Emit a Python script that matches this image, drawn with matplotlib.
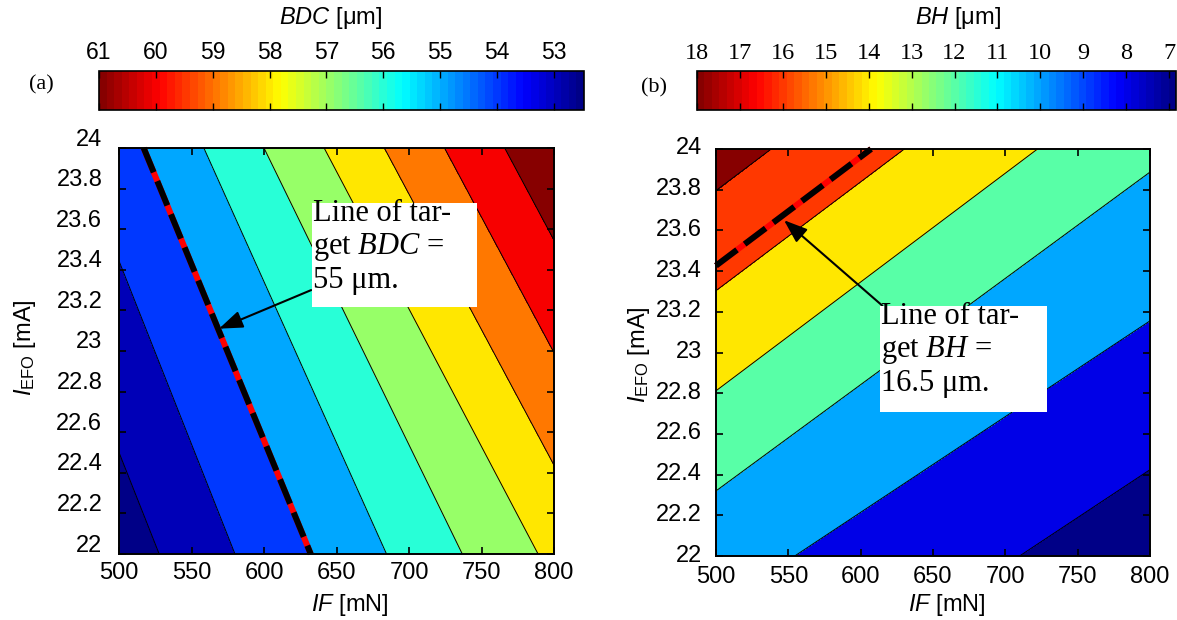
import numpy as np
import matplotlib
matplotlib.use("Agg")
import matplotlib.pyplot as plt
import matplotlib.transforms as mtransforms
from matplotlib.patches import Rectangle, ArrowStyle
from matplotlib.colors import Normalize, ListedColormap
from matplotlib.cm import ScalarMappable
from matplotlib.ticker import FormatStrFormatter

# response surfaces read at the corners of the plotted window
if_mN = [500, 800]
iefo_mA = [22, 24]
bdc_um = [[52.47, 58.21],   # IEFO = 22
          [54.59, 61.82]]   # IEFO = 24
bh_um = [[10.70, 6.84],
         [18.83, 12.31]]

bdc_levels = [53, 54, 55, 56, 57, 58, 59, 60, 61]
bh_levels = [8, 10, 12, 14, 16, 18]
bdc_target = 55
bh_target = 16.5

x_ticks = [500, 550, 600, 650, 700, 750, 800]
y_ticks = [22, 22.2, 22.4, 22.6, 22.8, 23, 23.2, 23.4, 23.6, 23.8, 24]
bdc_cbar_ticks = [53, 54, 55, 56, 57, 58, 59, 60, 61]
bh_cbar_ticks = [7, 8, 9, 10, 11, 12, 13, 14, 15, 16, 17, 18]

SANS = "Liberation Sans"
SERIF = "Liberation Serif"

plt.rcParams["font.family"] = SANS
plt.rcParams["mathtext.fontset"] = "custom"
plt.rcParams["mathtext.rm"] = SANS
plt.rcParams["mathtext.it"] = SANS + ":italic"
# \mathbf is (ab)used for the italic serif words in the callouts
plt.rcParams["mathtext.bf"] = SERIF + ":italic"

W, H = 1177, 620

# MATLAB flavoured jet with 64 entries
_s = (np.arange(64) + 0.5) / 64
cmap = ListedColormap(np.clip(np.stack([1.5 - np.abs(4 * _s - 3),
                                        1.5 - np.abs(4 * _s - 2),
                                        1.5 - np.abs(4 * _s - 1)], axis=1),
                              0, 1))


def fx(px):
    return px / W


def fy(py):
    return 1 - py / H


fig = plt.figure(figsize=(W / 100, H / 100), dpi=100)


def draw_panel(ax, cax, z, levels, target, cbar_ticks, cbar_family,
               cbar_size, ytick_shift, ypad, xpad, ylab_x, ylab_y,
               xlab_x, xlab_y):
    vmin = float(np.min(z))
    vmax = levels[-1]
    norm = Normalize(vmin, vmax)
    # each band takes the colour of its lower bound (MATLAB style)
    fill_colors = [cmap(min(norm(v), 0.999)) for v in [vmin] + levels]
    ax.contourf(if_mN, iefo_mA, z, levels=levels, colors=fill_colors,
                extend="both")
    ax.contour(if_mN, iefo_mA, z, levels=levels, colors="k", linewidths=0.7)

    t1 = ax.contour(if_mN, iefo_mA, z, levels=[target], colors="red",
                    linewidths=4.3)
    t2 = ax.contour(if_mN, iefo_mA, z, levels=[target], colors="k",
                    linewidths=4.3, linestyles=[(0, (4.4, 1.6))])
    t1.set_clip_on(False)
    t2.set_clip_on(False)

    ax.set_xlim(if_mN[0], if_mN[-1])
    ax.set_ylim(iefo_mA[0], iefo_mA[-1])
    ax.set_xticks(x_ticks)
    ax.set_yticks(y_ticks)
    ax.yaxis.set_major_formatter(FormatStrFormatter("%g"))
    ax.tick_params(direction="in", top=True, right=True, length=5,
                   width=1.2, labelsize=17)
    ax.tick_params(axis="y", pad=ypad)
    ax.tick_params(axis="x", pad=xpad)
    for s in ax.spines.values():
        s.set_linewidth(1.4)

    shift = mtransforms.ScaledTranslation(0, ytick_shift / 100,
                                          fig.dpi_scale_trans)
    for t in ax.yaxis.get_major_ticks():
        t.label1.set_transform(t.label1.get_transform() + shift)

    ax.set_xlabel(r"$IF$ [mN]", fontsize=17, va="center")
    ax.xaxis.set_label_coords(xlab_x, xlab_y)
    ax.set_ylabel(r"$I_{\mathrm{EFO}}$ [mA]", fontsize=17, va="center")
    ax.yaxis.set_label_coords(ylab_x, ylab_y)

    cb = fig.colorbar(ScalarMappable(norm=norm, cmap=cmap), cax=cax,
                      orientation="horizontal")
    cb.set_ticks(cbar_ticks)
    cb.ax.invert_xaxis()
    cb.outline.set_linewidth(1.2)
    cb.ax.minorticks_off()
    cb.ax.tick_params(axis="x", direction="in", top=True, bottom=True,
                      labeltop=True, labelbottom=False, length=5, width=1,
                      labelsize=cbar_size, pad=5,
                      labelfontfamily=cbar_family)


axL = fig.add_axes([fx(119), fy(554), 435 / W, 406 / H])
axR = fig.add_axes([fx(716), fy(556), 434 / W, 407 / H])
caxL = fig.add_axes([fx(99), fy(110), 485 / W, 39 / H])
caxR = fig.add_axes([fx(697), fy(110), 479 / W, 39 / H])

draw_panel(axL, caxL, bdc_um, bdc_levels, bdc_target, bdc_cbar_ticks, SANS,
           16.5, 11, 12, 5.8, -0.216, 0.507, 0.531, -0.126)
draw_panel(axR, caxR, bh_um, bh_levels, bh_target, bh_cbar_ticks, SERIF,
           17.5, 3, 10, 7, -0.177, 0.494, 0.532, -0.12)

fig.text(fx(331), fy(18), r"$BDC$ [μm]", ha="center", va="center", fontsize=17)
fig.text(fx(958), fy(18), r"$BH$ [μm]", ha="center", va="center", fontsize=17)
fig.text(fx(41.5), fy(85), "(a)", family=SERIF, fontsize=16,
         ha="center", va="center")
fig.text(fx(654.5), fy(88), "(b)", family=SERIF, fontsize=16,
         ha="center", va="center")

# callouts
head = ArrowStyle("-|>", head_length=0.6, head_width=0.22)
axL.annotate("", xy=(569, 23.11), xytext=(632.5, 23.30),
             arrowprops=dict(arrowstyle=head, color="k", lw=1.5,
                             shrinkA=0, shrinkB=0, mutation_scale=24))
axR.annotate("", xy=(547, 23.65), xytext=(615, 23.23),
             arrowprops=dict(arrowstyle=head, color="k", lw=1.5,
                             shrinkA=0, shrinkB=0, mutation_scale=24))

for (x0, y0, x1, y1), txt in [
        ((312, 203, 477, 307), "Line of tar-\nget $\\mathbf{BDC}$ =\n55 μm."),
        ((880, 306, 1047, 412), "Line of tar-\nget $\\mathbf{BH}$ =\n16.5 μm.")]:
    fig.add_artist(Rectangle((fx(x0), fy(y1)), (x1 - x0) / W, (y1 - y0) / H,
                             transform=fig.transFigure, facecolor="white",
                             edgecolor="none", zorder=2))
    fig.text(fx(x0 + 1), fy(y0 - 4), txt, family=SERIF, fontsize=22,
             ha="left", va="top", linespacing=1.13, zorder=3)

fig.savefig("out.png", dpi=100)
